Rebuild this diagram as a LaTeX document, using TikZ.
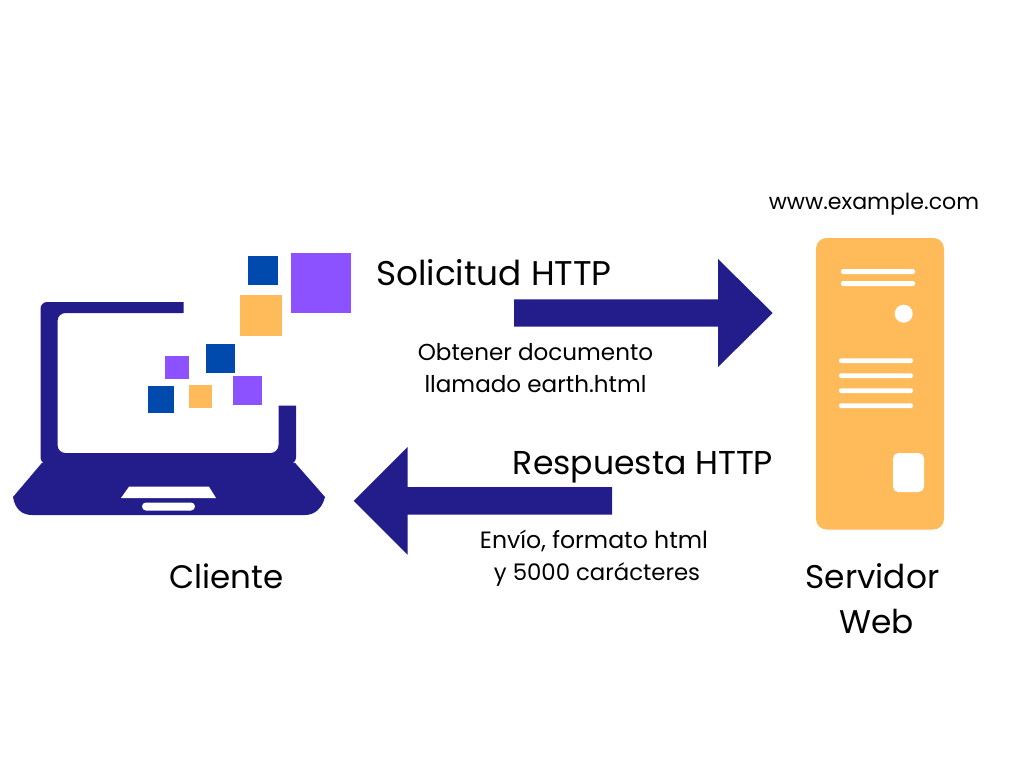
\documentclass[tikz,border=0pt]{standalone}
\usepackage{fontspec}
\setmainfont{Poppins}
\definecolor{navy}{HTML}{231D8C}
\definecolor{violeta}{HTML}{8C52FF}
\definecolor{azul}{HTML}{004AAD}
\definecolor{naranja}{HTML}{FFBA5A}
\tikzset{
  label text/.style={inner sep=0pt,anchor=base,text=black,font=\fontsize{#1}{#1}\selectfont},
  slot/.style={fill=white,rounded corners=1.5pt},
}
\begin{document}
\begin{tikzpicture}[x=0.75pt,y=-0.75pt]
\useasboundingbox[fill=white] (0,0) rectangle (1024,768);
% laptop
\fill[navy] (183.5,302) -- (183.5,313)
  [rounded corners=6pt] -- (57.5,313) -- (57.5,453) -- (278.5,453)
  [sharp corners] -- (278.5,405.7) -- (296,405.7)
  [rounded corners=5pt] -- (296,464) -- (40.5,464) -- (40.5,302)
  [sharp corners] -- cycle;
\fill[navy] (42,462.8) -- (295,462.8) -- (325,497)
  .. controls (322,509) and (314,515) .. (305,515) -- (32,515)
  .. controls (22,515) and (15,509) .. (13,497) -- cycle;
\fill[white] (129,486.7) -- (209,486.7) -- (216,498) -- (121,498) -- cycle;
\fill[white,rounded corners=3pt] (142,502.5) rectangle (195,510.5);
% squares
\fill[azul] (248,256) rectangle (277.5,285);
\fill[violeta] (290.5,252.5) rectangle (351,313);
\fill[naranja] (240,294.5) rectangle (281.5,335.5);
\fill[azul] (206,343.5) rectangle (235,372.5);
\fill[violeta] (165,355.5) rectangle (189,379);
\fill[azul] (147.5,386) rectangle (174,412.5);
\fill[naranja] (188.5,384.5) rectangle (212,408);
\fill[violeta] (232.5,375.5) rectangle (261.5,404.5);
% server
\fill[naranja,rounded corners=8pt] (816,238) rectangle (944,529.5);
\fill[slot] (841,269) rectangle (915,274);
\fill[slot] (841,281) rectangle (915,286);
\fill[white] (903.7,313.7) circle[radius=9];
\fill[slot] (839,358.3) rectangle (913,363);
\fill[slot] (839,373.3) rectangle (913,378);
\fill[slot] (839,388.3) rectangle (913,393);
\fill[slot] (839,403.3) rectangle (913,408);
\fill[white,rounded corners=4pt] (893,453) rectangle (924,492);
% arrows
\fill[navy] (514,299.4) -- (718,299.4) -- (718,259) -- (772.7,313) -- (718,367) -- (718,326.7) -- (514,326.7) -- cycle;
\fill[navy] (612,487) -- (407.7,487) -- (407.7,447) -- (353.7,500.8) -- (407.7,554.7) -- (407.7,514.7) -- (612,514.7) -- cycle;
% text
\node[label text=16.6] (www) at (874,209.3) {www.example.com};
\node[label text=25.7] (sol) at (494,285) {Solicitud HTTP};
\node[label text=17.3] (obt) at (535.5,360) {Obtener documento};
\node[label text=17.3] (lla) at (535.5,392.4) {llamado earth.html};
\node[label text=24.8] (res) at (643,474.7) {Respuesta HTTP};
\node[label text=17.7] (env) at (594,548) {Envío, formato html};
\node[label text=17.1] (car) at (597,580) {y 5000 carácteres};
\node[label text=24.4] (cli) at (226.7,588) {Cliente};
\node[label text=24.6] (ser) at (872.5,588) {Servidor};
\node[label text=24.6] (web) at (876.5,633) {Web};
\end{tikzpicture}
\end{document}
